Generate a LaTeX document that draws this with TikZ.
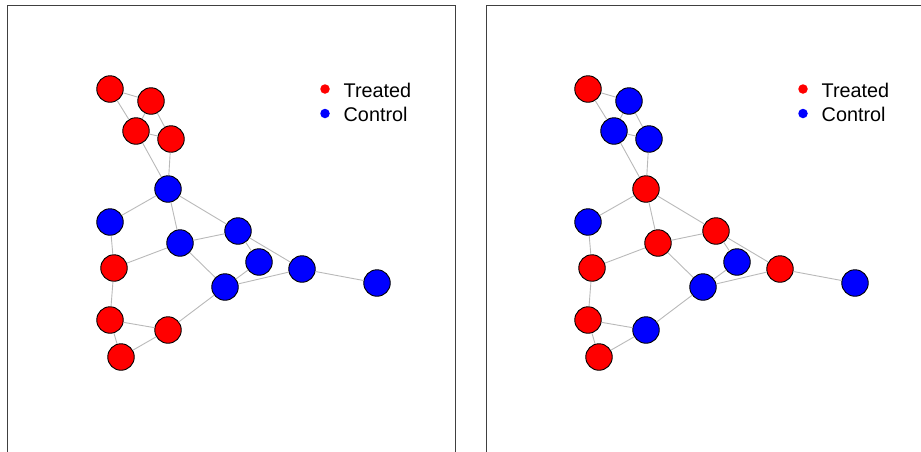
\documentclass[tikz,border=0pt]{standalone}
\usepackage{fontspec}
\setmainfont{Liberation Sans}
\definecolor{tr}{RGB}{255,0,0}
\definecolor{ct}{RGB}{0,0,255}
\definecolor{edgegray}{RGB}{185,185,185}
\begin{document}
\begin{tikzpicture}[x=1pt,y=-1pt,
  gn/.style={circle,draw=black,line width=0.9pt,minimum size=26.5pt,inner sep=0pt},
  ed/.style={draw=edgegray,line width=0.9pt},
  frame/.style={draw=black!75,line width=1pt},
  legdot/.style={circle,minimum size=9.5pt,inner sep=0pt},
  leg/.style={font=\fontsize{19.8}{22}\selectfont,anchor=base west,inner sep=0pt}]
\useasboundingbox (0,0) rectangle (921,451);
\clip (0,0) rectangle (921,451);
\draw[frame] (7.5,5.5) rectangle (455,470);
\draw[frame] (486,5.5) rectangle (940,470);
\foreach \n/\x/\y/\cl/\cr in {A/110/89/tr/tr, B/151/101/tr/ct, C/136/131/tr/ct, D/171/139/tr/ct,
  E/168/189/ct/tr, F/110/222/ct/ct, G/180/243/ct/tr, H/238/231/ct/tr, I/259/262/ct/ct,
  J/302/269/ct/tr, K/377/283/ct/ct, L/225/287/ct/ct, M/114/268/tr/tr, N/110/320/tr/tr,
  O/168/330/tr/ct, P/121/357/tr/tr}{
  \node[gn,fill=\cl] (l\n) at (\x,\y) {};
  \node[gn,fill=\cr] (r\n) at (\x+478,\y) {};
}
\foreach \a/\b in {A/B, A/C, B/C, B/D, C/D, C/E, D/E, E/F, E/G, E/H, F/M, G/M, G/H, G/L,
  H/I, H/J, I/L, L/J, J/K, M/N, N/O, N/P, O/P, O/L}{
  \draw[ed] (l\a) -- (l\b);
  \draw[ed] (r\a) -- (r\b);
}
\node[legdot,fill=tr] (ldt) at (325,89) {};
\node[legdot,fill=ct] (ldc) at (325,113.5) {};
\node[leg] (ltt) at (343.5,97) {Treated};
\node[leg] (ltc) at (343.5,121) {Control};
\node[legdot,fill=tr] (rdt) at (803,89) {};
\node[legdot,fill=ct] (rdc) at (803,113.5) {};
\node[leg] (rtt) at (821.5,97) {Treated};
\node[leg] (rtc) at (821.5,121) {Control};
\end{tikzpicture}
\end{document}
